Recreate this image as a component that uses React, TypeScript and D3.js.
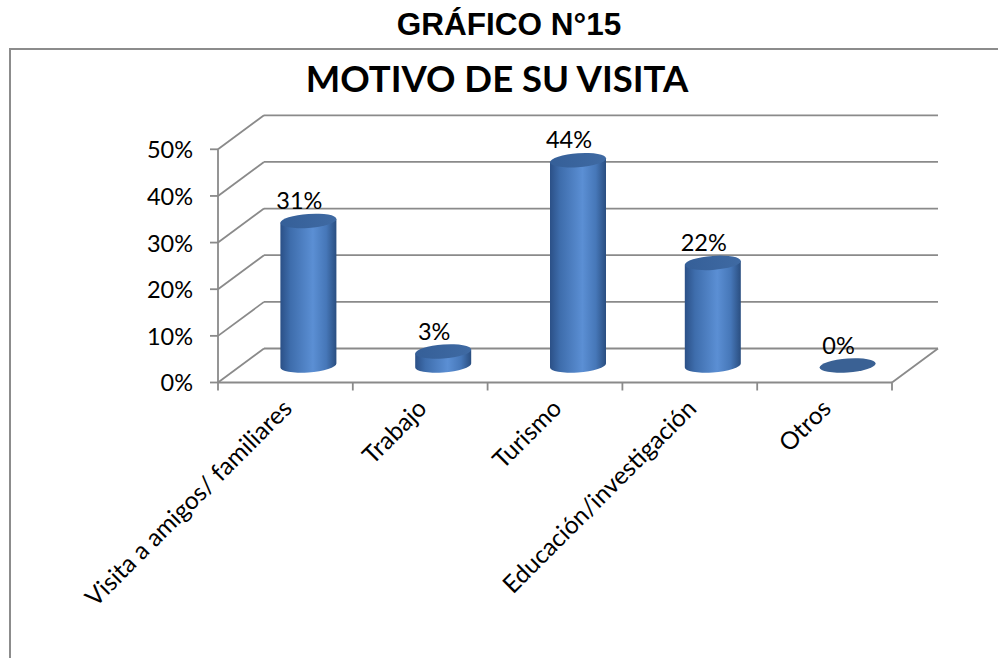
import React from 'react';
import * as d3 from 'd3';

const categories = ['Visita a amigos/ familiares', 'Trabajo', 'Turismo', 'Educación/investigación', 'Otros'];
const values = [0.31, 0.03, 0.44, 0.22, 0];
const valueLabels = ['31%', '3%', '44%', '22%', '0%'];
const yTicks = [0, 0.1, 0.2, 0.3, 0.4, 0.5];

const W = 998;
const H = 658;
const left = 218;
const right = 892;
const floorY = 382.5;
const topY = 149.3;
// depth offset of the back wall
const dx = 46;
const dy = -34;
const rx = 28;
const ry = 7;

const font = 'Lato, "Open Sans", sans-serif';
const gridColor = '#8a8a8a';

const App = () => {
  const x = d3.scaleBand<string>().domain(categories).range([left, right]);
  const y = d3.scaleLinear().domain([0, 0.5]).range([floorY, topY]);
  const bw = x.bandwidth();
  const boundaries = categories.map((c) => x(c) as number).concat([right]);

  return (
    <svg width={W} height={H} style={{ position: 'absolute', left: 0, top: 0, background: '#fff' }}>
      <defs>
        <linearGradient id="body" x1="0" x2="1" y1="0" y2="0">
          <stop offset="0%" stopColor="#2b5087" />
          <stop offset="18%" stopColor="#3e6dac" />
          <stop offset="58%" stopColor="#5b8fd4" />
          <stop offset="82%" stopColor="#4677b8" />
          <stop offset="100%" stopColor="#2a4e80" />
        </linearGradient>
        <linearGradient id="cap" x1="0" x2="1" y1="0" y2="0">
          <stop offset="0%" stopColor="#355f98" />
          <stop offset="100%" stopColor="#3f6aa3" />
        </linearGradient>
      </defs>

      <text x={509} y={35} textAnchor="middle" fontFamily='"Liberation Sans", Arial, sans-serif'
        fontWeight="bold" fontSize={31.5}>GRÁFICO N°15</text>

      <rect x={10} y={49} width={1100} height={700} fill="none" stroke="#8c8c8c" strokeWidth={2} />

      <text x={497} y={92} textAnchor="middle" fontFamily={font} fontWeight="bold" fontSize={36.5}>
        MOTIVO DE SU VISITA
      </text>

      {/* walls: gridlines on back wall and side wall */}
      {yTicks.map((t) => (
        <g key={t} stroke={gridColor} strokeWidth={1.8} fill="none">
          <line x1={left} y1={y(t)} x2={left + dx} y2={y(t) + dy} />
          <line x1={left + dx} y1={y(t) + dy} x2={right + dx} y2={y(t) + dy} />
          <line x1={left - 8} y1={y(t)} x2={left} y2={y(t)} />
        </g>
      ))}
      <g stroke={gridColor} strokeWidth={1.8} fill="none">
        <line x1={left} y1={floorY} x2={left} y2={topY} />
        <line x1={left} y1={floorY} x2={right} y2={floorY} />
        <line x1={right} y1={floorY} x2={right + dx} y2={floorY + dy} />
        {boundaries.map((b, i) => (
          <line key={i} x1={b} y1={floorY} x2={b} y2={floorY + 8} />
        ))}
      </g>

      {yTicks.map((t) => (
        <text key={t} x={193} y={y(t) + 3} textAnchor="end" dominantBaseline="middle"
          fontFamily={font} fontSize={23.5}>{d3.format('.0%')(t)}</text>
      ))}

      {categories.map((c, i) => {
        const cx = (x(c) as number) + bw / 2 + dx / 2;
        const base = y(0) + dy / 2;
        const top = y(values[i]) + dy / 2;
        const skew = `translate(${cx},0) skewY(-4) translate(${-cx},0)`;
        return (
          <g key={c}>
            <g transform={skew}>
              {values[i] > 0 ? (
                <>
                  <path
                    d={`M${cx - rx},${top} L${cx - rx},${base} A${rx},${ry} 0 0 0 ${cx + rx},${base} L${cx + rx},${top} Z`}
                    fill="url(#body)"
                  />
                  <ellipse cx={cx} cy={top} rx={rx} ry={ry} fill="url(#cap)" />
                </>
              ) : (
                <ellipse cx={cx} cy={base} rx={rx} ry={ry} fill="#3a6194" />
              )}
            </g>
            <text x={cx - 9} y={top - 12} textAnchor="middle" fontFamily={font} fontSize={23.5}>
              {valueLabels[i]}
            </text>
          </g>
        );
      })}

      {categories.map((c) => {
        const lx = (x(c) as number) + bw / 2 + 8;
        const ly = 410;
        return (
          <text key={c} x={lx} y={ly} textAnchor="end" transform={`rotate(-45,${lx},${ly})`}
            fontFamily={font} fontSize={24.5}>{c}</text>
        );
      })}
    </svg>
  );
};

export default App;
